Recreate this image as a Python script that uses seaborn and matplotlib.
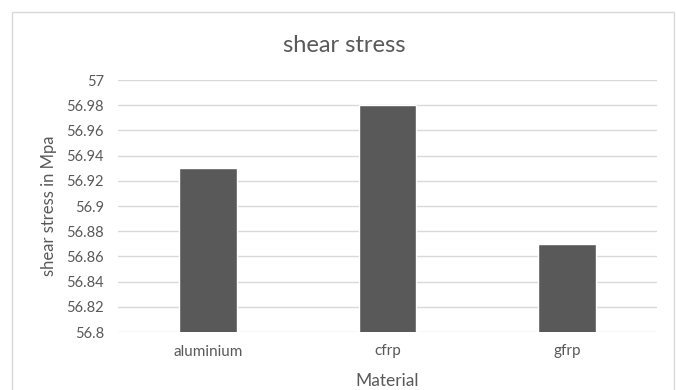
import matplotlib
matplotlib.use("Agg")
import matplotlib.pyplot as plt
import seaborn as sns
import pandas as pd
from matplotlib.patches import Rectangle

# Shear stress per material
materials = ["aluminium", "cfrp", "gfrp"]
shear_stress = [56.93, 56.98, 56.87]
y_ticks = [56.8, 56.82, 56.84, 56.86, 56.88, 56.9, 56.92, 56.94, 56.96, 56.98, 57]
y_tick_labels = ["56.8", "56.82", "56.84", "56.86", "56.88", "56.9",
                 "56.92", "56.94", "56.96", "56.98", "57"]

df = pd.DataFrame({"Material": materials, "stress": shear_stress})

sns.set_theme(style="white")
plt.rcParams["font.family"] = ["Lato", "DejaVu Sans"]

text_color = "#595959"
grid_color = "#d9d9d9"
bar_color = "#595959"

W, H = 676, 390
fig = plt.figure(figsize=(W / 100, H / 100), dpi=100)

# chart frame
fig.patches.append(Rectangle((12 / W, -0.05), (674 - 12) / W, 1.05 - 12 / H,
                             transform=fig.transFigure, fill=False,
                             edgecolor=grid_color, linewidth=1.0, zorder=0))

ax = fig.add_axes([118 / W, 1 - 332 / H, (657 - 118) / W, (332 - 80) / H])

sns.barplot(data=df, x="Material", y="stress", color=bar_color, width=0.32,
            saturation=1, ax=ax, zorder=3)

ax.set_ylim(56.8, 57)
ax.set_yticks(y_ticks)
ax.set_yticklabels(y_tick_labels)
ax.set_xlim(-0.5, 2.5)

for v in y_ticks:
    ax.axhline(v, color=grid_color, linewidth=1.0, zorder=1)

for s in ax.spines.values():
    s.set_visible(False)

ax.tick_params(axis="y", length=0, labelsize=10.5, colors=text_color, pad=10)
ax.tick_params(axis="x", length=0, labelsize=11, colors=text_color, pad=9)

ax.set_xlabel("Material", fontsize=12.5, color=text_color)
ax.xaxis.set_label_coords(387 / W, 1 - 381 / H, transform=fig.transFigure)
ax.xaxis.label.set_va("center")
ax.set_ylabel("shear stress in Mpa", fontsize=12, color=text_color)
ax.yaxis.set_label_coords(49 / W, 1 - 206 / H, transform=fig.transFigure)
ax.yaxis.label.set_va("center")

# chart title, centred on the whole chart frame
fig.text(344 / W, 1 - 45 / H, "shear stress", ha="center",
         va="center", fontsize=17, color=text_color)

fig.savefig("out.png", dpi=100, facecolor="white")
